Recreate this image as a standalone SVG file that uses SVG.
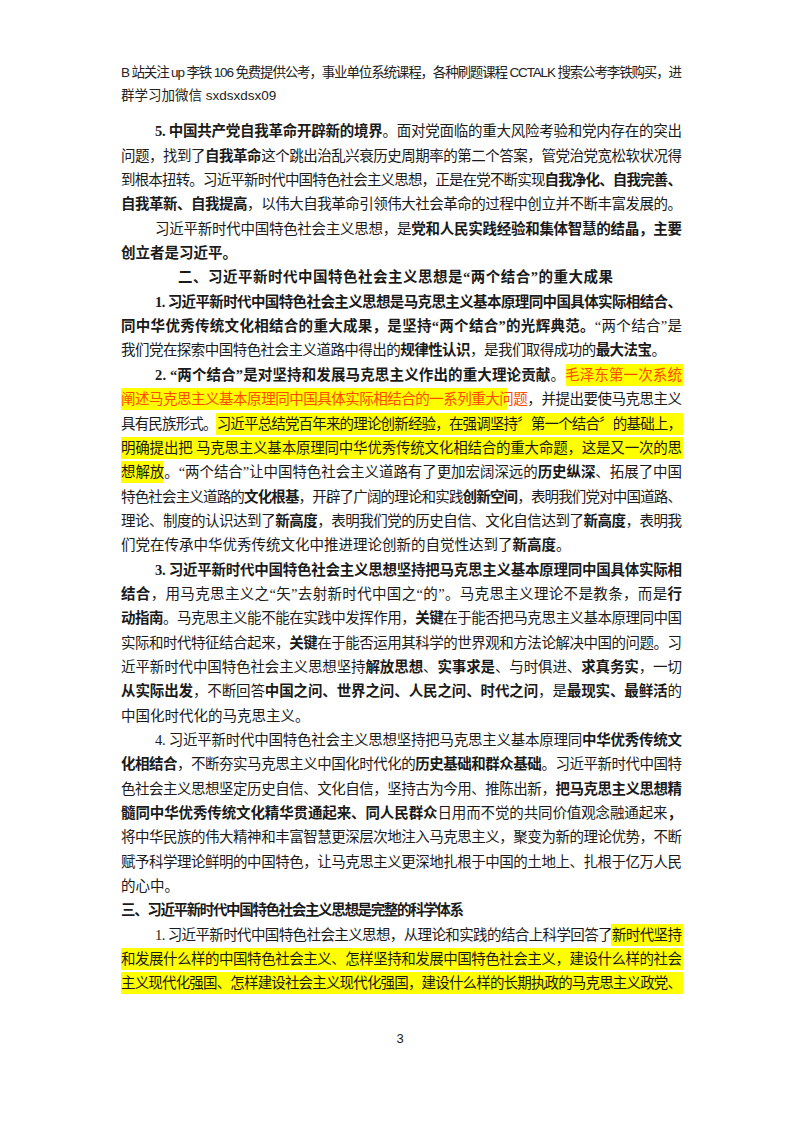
<svg xmlns="http://www.w3.org/2000/svg" width="800" height="1132" viewBox="0 0 800 1132">
<style>
text{font-family:"Liberation Serif","Noto Sans CJK SC",serif;font-size:14.5px;fill:#1a1a1a}
.h{font-family:"Liberation Sans","Noto Sans CJK SC",sans-serif;font-size:13.5px;fill:#222}
.b{font-weight:bold}
.o{fill:#ff4a00}
.hl{fill:#ffff00}
</style>
<rect width="800" height="1132" fill="#fff"/>
<g id="highlights">
<rect class="hl" x="566" y="364" width="117" height="22"/>
<rect class="hl" x="121" y="388" width="386" height="22"/>
<rect class="hl" x="216" y="413" width="467" height="22"/>
<rect class="hl" x="121" y="437" width="562" height="22"/>
<rect class="hl" x="121" y="461" width="42" height="22"/>
<rect class="hl" x="611" y="924" width="72" height="22"/>
<rect class="hl" x="121" y="948" width="562" height="22"/>
<rect class="hl" x="121" y="972" width="562" height="22"/>
</g>
<g id="header">
<text class="h" x="121" y="77" textLength="561" lengthAdjust="spacing">B 站关注 up 李铁 106 免费提供公考，事业单位系统课程，各种刷题课程 CCTALK 搜索公考李铁购买，进</text>
<text class="h" x="121" y="100">群学习加微信 sxdsxdsx09</text>
</g>
<g id="body">
<text x="155" y="136" textLength="527" lengthAdjust="spacing"><tspan class="b">5. 中国共产党自我革命开辟新的境界</tspan>。面对党面临的重大风险考验和党内存在的突出</text>
<text x="121" y="161" textLength="561" lengthAdjust="spacing">问题，找到了<tspan class="b">自我革命</tspan>这个跳出治乱兴衰历史周期率的第二个答案，管党治党宽松软状况得</text>
<text x="121" y="185" textLength="561" lengthAdjust="spacing">到根本扭转。习近平新时代中国特色社会主义思想，正是在党不断实现<tspan class="b">自我净化、自我完善、</tspan></text>
<text x="121" y="209" textLength="561" lengthAdjust="spacing"><tspan class="b">自我革新、自我提高</tspan>，以伟大自我革命引领伟大社会革命的过程中创立并不断丰富发展的。</text>
<text x="155" y="234" textLength="527" lengthAdjust="spacing">习近平新时代中国特色社会主义思想，是<tspan class="b">党和人民实践经验和集体智慧的结晶，主要</tspan></text>
<text x="121" y="258" class="b">创立者是习近平。</text>
<text x="178" y="282" class="b" textLength="435" lengthAdjust="spacing">二、习近平新时代中国特色社会主义思想是“两个结合”的重大成果</text>
<text x="155" y="307" class="b" textLength="527" lengthAdjust="spacing">1. 习近平新时代中国特色社会主义思想是马克思主义基本原理同中国具体实际相结合、</text>
<text x="121" y="331" textLength="561" lengthAdjust="spacing"><tspan class="b">同中华优秀传统文化相结合的重大成果，是坚持“两个结合”的光辉典范。</tspan>“两个结合”是</text>
<text x="121" y="355" textLength="545" lengthAdjust="spacing">我们党在探索中国特色社会主义道路中得出的<tspan class="b">规律性认识</tspan>，是我们取得成功的<tspan class="b">最大法宝</tspan>。</text>
<text x="155" y="380" textLength="527" lengthAdjust="spacing"><tspan class="b">2. “两个结合”是对坚持和发展马克思主义作出的重大理论贡献</tspan>。<tspan class="o">毛泽东第一次系统</tspan></text>
<text x="121" y="404" textLength="561" lengthAdjust="spacing"><tspan class="o">阐述马克思主义基本原理同中国具体实际相结合的一系列重大问题</tspan>，并提出要使马克思主义</text>
<text x="121" y="429" textLength="561" lengthAdjust="spacing">具有民族形式。习近平总结党百年来的理论创新经验，在强调坚持〞第一个结合〞的基础上，</text>
<text x="121" y="453" textLength="561" lengthAdjust="spacing">明确提出把 马克思主义基本原理同中华优秀传统文化相结合的重大命题，这是又一次的思</text>
<text x="121" y="477" textLength="561" lengthAdjust="spacing">想解放。“两个结合”让中国特色社会主义道路有了更加宏阔深远的<tspan class="b">历史纵深</tspan>、拓展了中国</text>
<text x="121" y="502" textLength="561" lengthAdjust="spacing">特色社会主义道路的<tspan class="b">文化根基</tspan>，开辟了广阔的理论和实践<tspan class="b">创新空间</tspan>，表明我们党对中国道路、</text>
<text x="121" y="526" textLength="561" lengthAdjust="spacing">理论、制度的认识达到了<tspan class="b">新高度</tspan>，表明我们党的历史自信、文化自信达到了<tspan class="b">新高度</tspan>，表明我</text>
<text x="121" y="550">们党在传承中华优秀传统文化中推进理论创新的自觉性达到了<tspan class="b">新高度</tspan>。</text>
<text x="155" y="575" class="b" textLength="527" lengthAdjust="spacing">3. 习近平新时代中国特色社会主义思想坚持把马克思主义基本原理同中国具体实际相</text>
<text x="121" y="599" textLength="561" lengthAdjust="spacing"><tspan class="b">结合</tspan>，用马克思主义之“矢”去射新时代中国之“的”。马克思主义理论不是教条，而是<tspan class="b">行</tspan></text>
<text x="121" y="623" textLength="561" lengthAdjust="spacing"><tspan class="b">动指南</tspan>。马克思主义能不能在实践中发挥作用，<tspan class="b">关键</tspan>在于能否把马克思主义基本原理同中国</text>
<text x="121" y="648" textLength="561" lengthAdjust="spacing">实际和时代特征结合起来，<tspan class="b">关键</tspan>在于能否运用其科学的世界观和方法论解决中国的问题。习</text>
<text x="121" y="672" textLength="561" lengthAdjust="spacing">近平新时代中国特色社会主义思想坚持<tspan class="b">解放思想</tspan>、<tspan class="b">实事求是</tspan>、与时俱进、<tspan class="b">求真务实</tspan>，一切</text>
<text x="121" y="696" textLength="561" lengthAdjust="spacing"><tspan class="b">从实际出发</tspan>，不断回答<tspan class="b">中国之问、世界之问、人民之问、时代之问</tspan>，是<tspan class="b">最现实、最鲜活</tspan>的</text>
<text x="121" y="721">中国化时代化的马克思主义。</text>
<text x="155" y="745" textLength="527" lengthAdjust="spacing">4. 习近平新时代中国特色社会主义思想坚持把马克思主义基本原理同<tspan class="b">中华优秀传统文</tspan></text>
<text x="121" y="769" textLength="561" lengthAdjust="spacing"><tspan class="b">化相结合</tspan>，不断夯实马克思主义中国化时代化的<tspan class="b">历史基础和群众基础</tspan>。习近平新时代中国特</text>
<text x="121" y="794" textLength="561" lengthAdjust="spacing">色社会主义思想坚定历史自信、文化自信，坚持古为今用、推陈出新，<tspan class="b">把马克思主义思想精</tspan></text>
<text x="121" y="818" textLength="561" lengthAdjust="spacing"><tspan class="b">髓同中华优秀传统文化精华贯通起来、同人民群众</tspan>日用而不觉的共同价值观念融通起来<tspan class="b">，</tspan></text>
<text x="121" y="842" textLength="561" lengthAdjust="spacing">将中华民族的伟大精神和丰富智慧更深层次地注入马克思主义，聚变为新的理论优势，不断</text>
<text x="121" y="867" textLength="561" lengthAdjust="spacing">赋予科学理论鲜明的中国特色，让马克思主义更深地扎根于中国的土地上、扎根于亿万人民</text>
<text x="121" y="891">的心中。</text>
<text x="121" y="915" class="b" textLength="343" lengthAdjust="spacing">三、习近平新时代中国特色社会主义思想是完整的科学体系</text>
<text x="155" y="940" textLength="527" lengthAdjust="spacing">1. 习近平新时代中国特色社会主义思想，从理论和实践的结合上科学回答了新时代坚持</text>
<text x="121" y="964" textLength="561" lengthAdjust="spacing">和发展什么样的中国特色社会主义、怎样坚持和发展中国特色社会主义，建设什么样的社会</text>
<text x="121" y="988" textLength="561" lengthAdjust="spacing">主义现代化强国、怎样建设社会主义现代化强国，建设什么样的长期执政的马克思主义政党、</text>
</g>
<text x="400" y="1043" text-anchor="middle" style="font-family:'Liberation Sans',sans-serif;font-size:13px">3</text>
</svg>
